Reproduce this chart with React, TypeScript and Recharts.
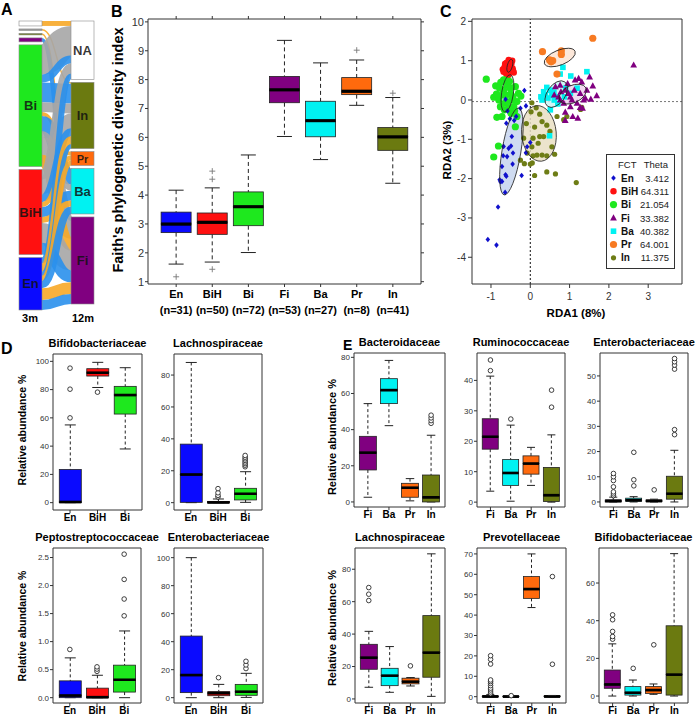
import React from "react";
import { Bar, ComposedChart, Line, ReferenceLine, Sankey, Scatter, ScatterChart, XAxis, YAxis } from "recharts";

const FONT = '"Liberation Sans", Arial, Helvetica, sans-serif';

const groupColors: Record<string, string> = {
  En: "#0a0aff",
  BiH: "#ff1010",
  Bi: "#1ee81e",
  Fi: "#800080",
  Ba: "#00f2f2",
  Pr: "#ff6a0d",
  In: "#6b7a10",
};

// ---------- A: alluvial 3m -> 12m ----------
const sankeyNodeNames = ["", "", "", "", "Bi", "BiH", "En", "NA", "In", "Pr", "Ba", "Fi"];
const sankeyNodeColors = ["#ffffff", "#9a9a9a", "#6b7a10", "#800080", "#1ee81e", "#ff1010", "#0a0aff", "#ffffff", "#6b7a10", "#ff6a0d", "#00f2f2", "#800080"];
const linkSources = [0, 1, 2, 3, 4, 4, 4, 4, 4, 4, 4, 4, 4, 5, 5, 5, 5, 5, 5, 5, 5, 6, 6, 6, 6, 6, 6, 6];
const linkTargets = [7, 8, 10, 11, 7, 7, 8, 8, 9, 10, 10, 11, 11, 7, 8, 8, 9, 10, 10, 11, 11, 7, 8, 8, 9, 10, 11, 11];
const linkValues = [5, 1.5, 1.5, 4, 30, 8, 20, 10, 4, 15, 6, 18, 12, 10, 15, 8, 5, 10, 6, 20, 12, 6, 8, 4.5, 5, 7.5, 12, 10];
const linkKinds = ["o", "o", "o", "b", "g", "b", "b", "g", "o", "b", "g", "g", "o", "g", "g", "b", "o", "b", "o", "g", "b", "b", "o", "b", "o", "b", "o", "b"];
const linkPalette: Record<string, string> = { b: "#2a90ec", g: "#a6a6a6", o: "#f7a928" };

// ---------- B: Faith's PD ----------
const bCats = ["En", "BiH", "Bi", "Fi", "Ba", "Pr", "In"];
const bCounts = [31, 50, 72, 53, 27, 8, 41];
// [low whisker, q1, median, q3, high whisker]
const bStats = [
  [1.61, 2.7, 3.0, 3.41, 4.17],
  [1.68, 2.64, 3.06, 3.38, 4.25],
  [2.01, 2.94, 3.6, 4.11, 5.39],
  [6.03, 7.2, 7.65, 8.11, 9.36],
  [5.23, 6.02, 6.58, 7.25, 8.58],
  [7.11, 7.48, 7.6, 8.07, 8.68],
  [4.41, 5.55, 6.02, 6.34, 7.38],
];
const bOutliers = [[1.17], [1.43, 4.55, 4.83], [], [], [], [9.02], [7.53]];
const bTicks = [1, 2, 3, 4, 5, 6, 7, 8, 9, 10];

// ---------- C: RDA ----------
const cXDomain: [number, number] = [-1.483, 3.86];
const cYDomain: [number, number] = [-4.68, 2.06];
const cXTicks = [-1, 0, 1, 2, 3];
const cYTicks = [-4, -3, -2, -1, 0, 1, 2];
const cLegendGroups = ["En", "BiH", "Bi", "Fi", "Ba", "Pr", "In"];
const cTheta = ["3.412", "64.311", "21.054", "33.382", "40.382", "64.001", "11.375"];

const enPts = [[-0.63, 0.02], [-0.15, 0.24], [-0.11, -0.15], [-0.25, -0.21], [-0.36, -0.42], [-0.41, -0.52], [-0.61, -0.59], [-0.47, -0.93], [-0.68, -1.18], [-0.55, -1.23], [-0.49, -1.17], [-0.69, -1.42], [-0.44, -1.35], [-0.59, -1.44], [-0.72, -1.69], [-0.45, -1.63], [-0.63, -1.9], [-0.61, -1.94], [-0.78, -2.03], [-0.72, -2.07], [-0.76, -2.08], [-0.64, -2.35], [-0.22, -1.92], [0.0, -1.08], [-0.08, -1.19], [-0.11, -1.34], [-0.82, -2.72], [-1.08, -3.55], [-0.86, -3.69], [-0.52, -0.48], [-0.58, -0.28]];
const bihPts = [[-0.55, 1.02], [-0.52, 0.98], [-0.6, 0.95], [-0.48, 0.92], [-0.65, 0.85], [-0.56, 0.85], [-0.45, 0.8], [-0.7, 0.78], [-0.6, 0.75], [-0.5, 0.72], [-0.62, 0.68], [-0.55, 0.65], [-0.42, 0.7], [-0.68, 0.72], [-0.5, 0.88], [-0.58, 0.8], [-0.64, 0.92], [-0.46, 1.0], [-0.53, 0.78], [-0.57, 0.9], [-0.49, 0.82], [-0.61, 0.86], [-0.66, 0.8], [-0.52, 0.93], [-0.44, 0.75]];
const biPts = [[-1.12, 0.53], [-0.88, 0.36], [-0.93, 0.07], [-0.85, -0.44], [-0.72, -0.42], [-0.81, -1.17], [-0.93, -1.45], [-0.34, -0.42], [-0.38, -0.68], [-0.47, 0], [-0.59, 0.38], [-0.68, 0.25], [-0.53, 0.47], [-0.64, -0.08], [-0.55, -0.21], [-0.42, -0.17], [-0.34, -0.04], [-0.3, 0.17], [-0.72, 0.13], [-0.8, 0], [-0.59, 0.55], [-0.51, 0.3], [-0.44, 0.08], [-0.38, 0.34], [-0.68, 0.51], [-0.76, -0.17], [-0.49, -0.34], [-0.24, 0.1], [-0.78, 0.3], [-0.86, 0.15], [-0.62, 0.12], [-0.5, 0.15], [-0.66, -0.25], [-0.4, -0.28], [-0.75, 0.45], [-0.58, -0.05]];
const fiPts = [[2.63, 0.89], [1.69, 0.11], [0.64, 0.34], [0.76, 0.38], [0.89, 0.25], [1.02, 0.08], [1.12, 0.25], [1.23, 0.55], [1.31, 0.46], [1.51, 0.59], [1.59, 0.36], [1.54, 0.02], [1.36, 0], [1.19, -0.08], [1.02, -0.17], [0.76, 0], [0.85, -0.08], [1.33, -0.21], [0.89, -0.31], [1.08, -0.42], [1.21, -0.46], [0.89, -0.52], [0.61, 0.13], [1.27, 0.17], [1.44, 0.25], [1.14, 0.51], [0.97, 0.17], [0.72, 0.08], [0.78, 0.21], [1.06, 0], [1.27, -0.19], [0.95, 0.42], [1.4, 0.05]];
const baPts = [[0.76, 0.66], [1.03, 0.61], [1.44, 0.72], [0.83, 0.83], [0.34, 0.21], [0.42, 0.32], [0.51, 0.25], [0.27, 0.08], [0.3, 0], [0.51, -0.25], [0.61, 0], [0.68, 0.08], [0.87, 0.08], [1.02, 0.17], [1.19, 0.3], [0.49, -0.91], [0.38, 0.13], [0.55, 0.12], [0.45, 0.05], [0.6, 0.2], [0.9, 0.3], [0.7, -0.1]];
const prPts = [[0.31, 1.23], [0.49, 1.02], [0.53, 0.97], [0.79, 1.25], [0.79, 1.16], [0.68, 0.66], [1.59, 1.57], [0.57, 1.0]];
const inPts = [[0.04, -0.07], [0.02, -0.3], [0.24, -0.36], [0.11, -0.69], [-0.17, -0.97], [0.07, -0.97], [0.24, -0.93], [0.34, -0.93], [0.42, -0.64], [0.04, -1.19], [0.17, -1.4], [0.07, -1.42], [0, -1.63], [0.3, -1.4], [0.42, -1.42], [0.62, -1.38], [0.55, -1.19], [0.11, -1.92], [0.42, -1.83], [0.64, -1.88], [1.17, -2.1], [0.68, -0.42], [0.93, -0.42], [1.31, -0.19], [1.28, -0.24], [-0.25, -1.53], [-0.08, -1.35], [0.2, -1.1], [0.5, -0.8], [-0.1, -0.6], [0.3, -0.55], [0.15, -0.2], [-0.15, -1.62], [0.05, -1.6], [0.85, -0.5]];

const ellipseGroups = ["En", "Bi", "BiH", "Fi", "Ba", "Pr", "In"];
const ellipseCenters = [[-0.48, -1.31], [-0.58, 0.17], [-0.52, 0.87], [1.08, 0.15], [0.66, 0.15], [0.75, 1.08], [0.22, -0.85]];
const ellipseAxes = [[1.12, 0.24], [0.48, 0.15], [0.17, 0.065], [0.37, 0.22], [0.38, 0.23], [0.42, 0.19], [0.71, 0.44]];
const ellipseAngles = [80.6, 81.4, 75, 25, 55, 22, 95];
const ellipseFills: Record<string, string> = { En: "#c7d5ee", Bi: "#c9f3c9", BiH: "#f5c4c4", Fi: "#efd2ec", Ba: "#c9f4f6", Pr: "#fbe3d2", In: "#e9dfc3" };

// ---------- D ----------
const dCats = ["En", "BiH", "Bi"];
const dBifido = [[0, 0, 0.5, 23.5, 55], [81.5, 89.6, 92, 94.8, 99.3], [38, 62.7, 76.2, 82.3, 95.5]];
const dBifidoOut = [[60, 80.3, 95.2], [78.2], []];
const dLachno = [[0, 0.2, 17.7, 36.7, 87.9], [0, 0, 0.2, 0.8, 2.3], [0.2, 1.7, 5.6, 9, 19.4]];
const dLachnoOut = [[], [3.6, 4.6, 6.2, 8.8], [22.5, 23.5, 24.5, 25.5, 26.5, 27.5, 28.5, 29.6]];
const dPepto = [[0, 0, 0.04, 0.3, 0.71], [0, 0, 0.01, 0.17, 0.4], [0, 0.1, 0.32, 0.58, 1.19]];
const dPeptoOut = [[0.86], [0.47, 0.51, 0.55], [1.46, 1.76, 2.11, 2.56]];
const dEntero = [[0, 3.6, 16.2, 44, 100], [0, 1.4, 3.3, 4.3, 9.5], [0.2, 1.7, 4.3, 9.5, 17.4]];
const dEnteroOut = [[], [14.3], [20.8, 23.4, 26]];

// ---------- E ----------
const eCats = ["Fi", "Ba", "Pr", "In"];
const eBactero = [[2.6, 17.7, 27.3, 36.3, 54.4], [42.2, 54.4, 61.9, 68.2, 78.3], [0.6, 2.6, 7.9, 10.3, 12.9], [0, 0, 2.6, 14.9, 36.9]];
const eBacteroOut = [[], [], [], [43.5, 45, 46.5, 48]];
const eRumino = [[3.6, 17.4, 21.5, 27.4, 41.4], [0.3, 5.5, 9.6, 14, 25.3], [5.5, 9.2, 12.7, 15.2, 18], [0, 0.2, 2.3, 11.4, 22.1]];
const eRuminoOut = [[43.2, 46.7], [27.3], [], [31.2, 36.8]];
const eEntero = [[0, 0, 0.4, 0.8, 1.9], [0, 0.3, 0.7, 1.5, 2.1], [0, 0.1, 0.4, 0.8, 1.1], [0, 1.1, 3.3, 10.2, 20.5]];
const eEnteroOut = [[2.5, 3.2, 4, 6, 8.5, 10, 11.3], [6.4, 8.8, 19.7], [4.8], [26.7, 28.7, 52.7, 54.3, 55.6, 56.9]];
const eLachno = [[7.2, 18.3, 25.5, 33.7, 41.7], [4.1, 8.2, 14.4, 18.9, 32.3], [8, 9.3, 10.7, 12.8, 13.2], [1.6, 13.4, 28.6, 51.4, 89.5]];
const eLachnoOut = [[60.7, 64.6, 68.7], [], [20.4], []];
const ePrevo = [[0, 0, 0.1, 0.3, 1], [0, 0, 0.05, 0.2, 0.3], [43.7, 48.2, 52.8, 58.9, 70], [0, 0, 0.1, 0.4, 0.6]];
const ePrevoOut = [[1.5, 2.3, 3.3, 4.2, 5.4, 6.5, 7.4, 8.2, 16, 18.3, 20.1], [0.5], [], [15.9, 58.9]];
const eBifido = [[0, 4.1, 6.2, 13.8, 27.7], [0, 0.5, 1.8, 5, 8.5], [0.9, 1.4, 3.2, 5, 6.4], [0, 0.5, 11.4, 37.3, 75.6]];
const eBifidoOut = [[30.2, 31.6, 34.3, 40.5, 43.1], [14.7], [27.2], []];

type Panel = {
  title: string;
  x: number; y: number; w: number; h: number;
  cats: string[]; stats: number[][]; outs: number[][];
  domain: [number, number]; ticks: number[]; fmt?: (v: number) => string; yW: number;
};

const smallPanels: Panel[] = [
  { title: "Bifidobacteriaceae", x: 53, y: 354, w: 89, h: 156, cats: dCats, stats: dBifido, outs: dBifidoOut, domain: [-5.2, 105.2], ticks: [0, 20, 40, 60, 80, 100], yW: 24 },
  { title: "Lachnospiraceae", x: 174, y: 354, w: 88, h: 156, cats: dCats, stats: dLachno, outs: dLachnoOut, domain: [-4.6, 93.2], ticks: [0, 20, 40, 60, 80], yW: 20 },
  { title: "Peptostreptococcaceae", x: 53, y: 548, w: 88, h: 155, cats: dCats, stats: dPepto, outs: dPeptoOut, domain: [-0.095, 2.67], ticks: [0, 0.5, 1, 1.5, 2, 2.5], fmt: (v) => v.toFixed(1), yW: 24 },
  { title: "Enterobacteriaceae", x: 174, y: 548, w: 89, h: 155, cats: dCats, stats: dEntero, outs: dEnteroOut, domain: [-3.8, 106.9], ticks: [0, 20, 40, 60, 80, 100], yW: 20 },
  { title: "Bacteroidaceae", x: 354, y: 353, w: 91, h: 154, cats: eCats, stats: eBactero, outs: eBacteroOut, domain: [-2.8, 82.4], ticks: [0, 20, 40, 60, 80], yW: 20 },
  { title: "Ruminococcaceae", x: 477, y: 353, w: 88, h: 154, cats: eCats, stats: eRumino, outs: eRuminoOut, domain: [-1.6, 49], ticks: [0, 10, 20, 30, 40], yW: 20 },
  { title: "Enterobacteriaceae", x: 600, y: 353, w: 88, h: 154, cats: eCats, stats: eEntero, outs: eEnteroOut, domain: [-2.0, 59.1], ticks: [0, 10, 20, 30, 40, 50], yW: 20 },
  { title: "Lachnospiraceae", x: 355, y: 548, w: 90, h: 155, cats: eCats, stats: eLachno, outs: eLachnoOut, domain: [-2.5, 93.1], ticks: [0, 20, 40, 60, 80], yW: 20 },
  { title: "Prevotellaceae", x: 477, y: 548, w: 89, h: 155, cats: eCats, stats: ePrevo, outs: ePrevoOut, domain: [-3.1, 72.9], ticks: [0, 10, 20, 30, 40, 50, 60, 70], yW: 20 },
  { title: "Bifidobacteriaceae", x: 599, y: 548, w: 89, h: 155, cats: eCats, stats: eBifido, outs: eBifidoOut, domain: [-3.7, 78.6], ticks: [0, 20, 40, 60], yW: 20 },
];

const emptyTick = () => <g />;

type BoxPanelProps = {
  x: number; y: number; w: number; h: number;
  cats: string[]; stats: number[][]; outs: number[][];
  domain: [number, number]; ticks: number[]; fmt?: (v: number) => string;
  yW: number; xH?: number; boxFrac?: number; medW?: number; capFrac?: number;
  tickFont?: number; catFont?: number; marker?: "circle" | "plus"; xTick?: any;
  dash?: string; frameTicks?: boolean;
};

function BoxPanel({ x, y, w, h, cats, stats, outs, domain, ticks, fmt, yW, xH = 22, boxFrac = 0.8, medW = 2.5, capFrac = 0.5, tickFont = 8, catFont = 10, marker = "circle", xTick, dash = "3 2.5", frameTicks = false }: BoxPanelProps) {
  const n = cats.length;
  const band = w / (1.08 * n);
  const pad = 0.04 * n * band;
  const barSize = Math.round(band * boxFrac);
  const nOut = Math.max(0, ...outs.map((o) => o.length));
  const rows = cats.map((name, i) => {
    const [lo, q1, md, q3, hi] = stats[i];
    const row: Record<string, any> = { name, color: groupColors[name], base: lo, wLow: q1 - lo, boxLow: md - q1, boxHigh: q3 - md, wHigh: hi - q3 };
    outs[i].forEach((v, k) => {
      row["o" + k] = v;
    });
    return row;
  });
  // outer space above / right of the plot; the frame axes take 1px of it
  const mt = 5;
  const mr = 5;

  const lowWhisker = (p: any) => {
    const cx = p.x + p.width / 2;
    const bottom = p.y + p.height;
    const c = (p.width * capFrac) / 2;
    return (
      <g>
        <line x1={cx} x2={cx} y1={p.y} y2={bottom} stroke="#222" strokeDasharray={dash} />
        <line x1={cx - c} x2={cx + c} y1={bottom} y2={bottom} stroke="#222" />
      </g>
    );
  };
  const highWhisker = (p: any) => {
    const cx = p.x + p.width / 2;
    const c = (p.width * capFrac) / 2;
    return (
      <g>
        <line x1={cx} x2={cx} y1={p.y} y2={p.y + p.height} stroke="#222" strokeDasharray={dash} />
        <line x1={cx - c} x2={cx + c} y1={p.y} y2={p.y} stroke="#222" />
      </g>
    );
  };
  const lowBox = (p: any) => (
    <g>
      <rect x={p.x} y={p.y} width={p.width} height={Math.max(p.height, 0)} fill={p.payload.color} stroke="#222" strokeWidth={0.8} />
      <line x1={p.x} x2={p.x + p.width} y1={p.y} y2={p.y} stroke="#000" strokeWidth={medW} />
    </g>
  );
  const highBox = (p: any) => (
    <g>
      <rect x={p.x} y={p.y} width={p.width} height={Math.max(p.height, 0)} fill={p.payload.color} stroke="#222" strokeWidth={0.8} />
      <line x1={p.x} x2={p.x + p.width} y1={p.y + p.height} y2={p.y + p.height} stroke="#000" strokeWidth={medW} />
    </g>
  );
  const outDot = (k: number) => (p: any) => {
    const key = `o${k}-${p.index}`;
    if (p.cy == null || Number.isNaN(p.cy) || p.value == null) return <g key={key} />;
    if (marker === "plus") {
      return <path key={key} d={`M${p.cx - 3},${p.cy}H${p.cx + 3}M${p.cx},${p.cy - 3}V${p.cy + 3}`} stroke="#777" strokeWidth={0.9} fill="none" />;
    }
    return <circle key={key} cx={p.cx} cy={p.cy} r={2.3} fill="#fff" stroke="#111" strokeWidth={0.8} />;
  };

  return (
    <div style={{ position: "absolute", left: x - yW, top: y - mt }}>
      <ComposedChart width={yW + w + mr} height={mt + h + xH} data={rows} margin={{ top: mt - 1, right: mr - 1, bottom: 0, left: 0 }}>
        <XAxis
          dataKey="name"
          type="category"
          padding={{ left: pad, right: pad }}
          height={xH}
          interval={0}
          tickSize={3}
          tickMargin={1}
          stroke="#333"
          tick={xTick ?? { fontSize: catFont, fontWeight: "bold", fill: "#000", fontFamily: FONT }}
        />
        <XAxis
          xAxisId="top"
          orientation="top"
          dataKey="name"
          type="category"
          padding={{ left: pad, right: pad }}
          height={1}
          interval={0}
          tick={emptyTick}
          tickLine={frameTicks}
          tickSize={3}
          stroke="#333"
        />
        <YAxis
          type="number"
          domain={domain}
          ticks={ticks}
          allowDataOverflow
          interval={0}
          width={yW}
          tickSize={3}
          tickMargin={1}
          tickFormatter={fmt}
          stroke="#333"
          tick={{ fontSize: tickFont, fill: "#333", fontFamily: FONT }}
        />
        <YAxis
          yAxisId="r"
          orientation="right"
          type="number"
          domain={domain}
          ticks={ticks}
          allowDataOverflow
          interval={0}
          width={1}
          tick={emptyTick}
          tickLine={frameTicks}
          tickSize={3}
          stroke="#333"
        />
        <Line xAxisId="top" yAxisId="r" dataKey="base" stroke="none" dot={false} activeDot={false} isAnimationActive={false} />
        <Bar dataKey="base" stackId="box" barSize={barSize} shape={() => <g />} isAnimationActive={false} />
        <Bar dataKey="wLow" stackId="box" barSize={barSize} shape={lowWhisker} isAnimationActive={false} />
        <Bar dataKey="boxLow" stackId="box" barSize={barSize} shape={lowBox} isAnimationActive={false} />
        <Bar dataKey="boxHigh" stackId="box" barSize={barSize} shape={highBox} isAnimationActive={false} />
        <Bar dataKey="wHigh" stackId="box" barSize={barSize} shape={highWhisker} isAnimationActive={false} />
        {Array.from({ length: nOut }, (_, k) => (
          <Line key={k} dataKey={"o" + k} stroke="none" dot={outDot(k)} activeDot={false} isAnimationActive={false} />
        ))}
      </ComposedChart>
    </div>
  );
}

function BTick(props: any) {
  const { x, y, payload } = props;
  const i = bCats.indexOf(payload.value);
  return (
    <g fontFamily={FONT} fontWeight="bold" fontSize={11} fill="#000">
      <text x={x} y={y + 10} textAnchor="middle">{payload.value}</text>
      <text x={x} y={y + 26} textAnchor="middle">(n={bCounts[i]})</text>
    </g>
  );
}

// ---------- A renderers ----------
function AlluvialNode(props: any) {
  const { x, y, width, height, index } = props;
  const name = sankeyNodeNames[index] ?? "";
  return (
    <g>
      <rect x={x} y={y} width={width} height={Math.max(height, 1)} fill={sankeyNodeColors[index]} stroke="#8a8a8a" strokeWidth={0.6} />
      {name ? (
        <text x={x + width / 2} y={y + height / 2} textAnchor="middle" dominantBaseline="central" fontFamily={FONT} fontWeight="bold" fontSize={name === "Pr" ? 11 : 13} fill="#111" fillOpacity={0.85}>
          {name}
        </text>
      ) : null}
    </g>
  );
}

function AlluvialLink(props: any) {
  const { sourceX, sourceY, sourceControlX, targetX, targetY, targetControlX, linkWidth, index, payload } = props;
  const color = payload?.color ?? linkPalette[linkKinds[index]];
  return (
    <path
      d={`M${sourceX},${sourceY} C${sourceControlX},${sourceY} ${targetControlX},${targetY} ${targetX},${targetY}`}
      fill="none"
      stroke={color}
      strokeWidth={Math.max(linkWidth, 0.8)}
      strokeOpacity={0.9}
    />
  );
}

// ---------- C renderers ----------
const cChartW = 270;
const cYAxisW = 52;
const cMarginR = 8;
const cPlotW = cChartW - cYAxisW - cMarginR;
const cPlotH = 265;
const pxX = cPlotW / (cXDomain[1] - cXDomain[0]);
const pxY = cPlotH / (cYDomain[1] - cYDomain[0]);

function drawSymbol(group: string, cx: number, cy: number, key?: string) {
  const fill = groupColors[group];
  switch (group) {
    case "En":
      return <polygon key={key} points={`${cx},${cy - 2.8} ${cx + 2.3},${cy} ${cx},${cy + 2.8} ${cx - 2.3},${cy}`} fill="#1010cc" />;
    case "Fi":
      return <polygon key={key} points={`${cx},${cy - 3.6} ${cx + 3.4},${cy + 2.6} ${cx - 3.4},${cy + 2.6}`} fill={fill} />;
    case "Ba":
      return <rect key={key} x={cx - 2.8} y={cy - 2.8} width={5.6} height={5.6} fill={fill} />;
    case "In":
      return <circle key={key} cx={cx} cy={cy} r={2.6} fill="#6e7d16" />;
    case "BiH":
      return <circle key={key} cx={cx} cy={cy} r={3.2} fill={fill} />;
    case "Pr":
      return <circle key={key} cx={cx} cy={cy} r={3.6} fill="#f77a22" />;
    default:
      return <circle key={key} cx={cx} cy={cy} r={3.6} fill={fill} />;
  }
}

const cSeries: [string, number[][]][] = [
  ["In", inPts],
  ["Bi", biPts],
  ["BiH", bihPts],
  ["Ba", baPts],
  ["Fi", fiPts],
  ["Pr", prPts],
  ["En", enPts],
];

const ellipseRows = ellipseGroups.map((g, i) => ({
  x: ellipseCenters[i][0],
  y: ellipseCenters[i][1],
  a: ellipseAxes[i][0],
  b: ellipseAxes[i][1],
  ang: ellipseAngles[i],
  group: g,
}));

const ellipseShape = (filled: boolean) => (p: any) => (
  <ellipse
    cx={p.cx}
    cy={p.cy}
    rx={p.payload.a * pxX}
    ry={p.payload.b * pxY}
    transform={`rotate(${-p.payload.ang} ${p.cx} ${p.cy})`}
    fill={filled ? ellipseFills[p.payload.group] : "none"}
    fillOpacity={0.85}
    stroke={filled ? "none" : "#222"}
    strokeWidth={0.8}
  />
);

function RdaPanel() {
  return (
    <div style={{ position: "absolute", left: 420, top: 0 }}>
      <ScatterChart width={cChartW} height={320} margin={{ top: 18, right: cMarginR - 1, bottom: 0, left: 0 }}>
        <XAxis type="number" dataKey="x" domain={cXDomain} ticks={cXTicks} allowDataOverflow interval={0} height={36} tickSize={4} tickMargin={5} stroke="#333" tick={{ fontSize: 10, fill: "#333", fontFamily: FONT }} />
        <XAxis xAxisId="top" orientation="top" type="number" dataKey="x" domain={cXDomain} allowDataOverflow height={1} tick={emptyTick} tickLine={false} stroke="#333" />
        <YAxis type="number" dataKey="y" domain={cYDomain} ticks={cYTicks} allowDataOverflow interval={0} width={cYAxisW} tickSize={4} tickMargin={2} stroke="#333" tick={{ fontSize: 10, fill: "#333", fontFamily: FONT }} />
        <YAxis yAxisId="r" orientation="right" type="number" dataKey="y" domain={cYDomain} allowDataOverflow width={1} tick={emptyTick} tickLine={false} stroke="#333" />
        <ReferenceLine x={0} stroke="#111" strokeDasharray="2 2" />
        <ReferenceLine y={-0.04} stroke="#777" strokeDasharray="2 2" />
        <Scatter xAxisId="top" yAxisId="r" data={ellipseRows} shape={() => <g />} isAnimationActive={false} />
        <Scatter data={ellipseRows} shape={ellipseShape(true)} isAnimationActive={false} />
        {cSeries.map(([g, pts]) => (
          <Scatter
            key={g}
            data={pts.map(([px, py]) => ({ x: px, y: py }))}
            shape={(p: any) => drawSymbol(g, p.cx, p.cy)}
            isAnimationActive={false}
          />
        ))}
        <Scatter data={ellipseRows} shape={ellipseShape(false)} isAnimationActive={false} />
      </ScatterChart>
    </div>
  );
}

function RdaLegend() {
  return (
    <svg width={70} height={116} style={{ position: "absolute", left: 606, top: 154 }} fontFamily={FONT}>
      <rect x={0.5} y={0.5} width={68} height={114} fill="#fff" stroke="#333" strokeWidth={1} />
      <text x={12} y={14} fontSize={9.5} fill="#222">FCT</text>
      <text x={62} y={14} fontSize={9.5} fill="#222" textAnchor="end">Theta</text>
      {cLegendGroups.map((g, i) => {
        const cy = 24 + i * 13.3;
        return (
          <g key={g}>
            {drawSymbol(g, 7.5, cy)}
            <text x={15} y={cy + 3.6} fontSize={10} fontWeight="bold" fill="#111">{g}</text>
            <text x={63} y={cy + 3.6} fontSize={9.5} fill="#222" textAnchor="end">{cTheta[i]}</text>
          </g>
        );
      })}
    </svg>
  );
}

export default function App() {
  const alluvialData = {
    nodes: sankeyNodeNames.map((name) => ({ name })),
    links: linkSources.map((s, i) => ({ source: s, target: linkTargets[i], value: linkValues[i], color: linkPalette[linkKinds[i]] })),
  };
  return (
    <div style={{ position: "relative", width: 696, height: 720, background: "#fff", fontFamily: FONT, overflow: "hidden" }}>
      <style>{"body{margin:0}"}</style>

      <div style={{ position: "absolute", left: 0, top: 0 }}>
        <Sankey
          width={100}
          height={320}
          data={alluvialData}
          nodeWidth={23}
          nodePadding={3}
          iterations={0}
          sort={false}
          margin={{ top: 21, right: 6, bottom: 10, left: 19 }}
          node={(p: any) => <AlluvialNode {...p} />}
          link={(p: any) => <AlluvialLink {...p} />}
        />
      </div>

      <BoxPanel
        x={148}
        y={19}
        w={273}
        h={265}
        cats={bCats}
        stats={bStats}
        outs={bOutliers}
        domain={[0.92, 10.1]}
        ticks={bTicks}
        yW={40}
        xH={36}
        boxFrac={0.83}
        medW={3}
        tickFont={11}
        marker="plus"
        xTick={<BTick />}
        dash="4 3"
        frameTicks
      />

      <RdaPanel />
      <RdaLegend />

      {smallPanels.map((p, i) => (
        <BoxPanel key={i} {...p} />
      ))}

      <svg width={696} height={720} style={{ position: "absolute", left: 0, top: 0, pointerEvents: "none" }} fontFamily={FONT} fontWeight="bold">
        <text x={1} y={15} fontSize={16}>A</text>
        <text x={111} y={17} fontSize={16}>B</text>
        <text x={440} y={17} fontSize={16}>C</text>
        <text x={1} y={354} fontSize={16}>D</text>
        <text x={343} y={350} fontSize={14}>E</text>

        <text x={30} y={322} fontSize={11} textAnchor="middle">3m</text>
        <text x={83} y={322} fontSize={11} textAnchor="middle">12m</text>

        <text x={118} y={150} fontSize={14.5} textAnchor="middle" dominantBaseline="central" transform="rotate(-90 118 150)">
          Faith's phylogenetic diversity index
        </text>

        <text x={576} y={313} fontSize={11.5} textAnchor="middle" dominantBaseline="central">RDA1 (8%)</text>
        <text x={447} y={150} fontSize={11.5} textAnchor="middle" dominantBaseline="central" transform="rotate(-90 447 150)">RDA2 (3%)</text>

        <text x={22} y={430} fontSize={10.5} textAnchor="middle" dominantBaseline="central" transform="rotate(-90 22 430)">Relative abundance %</text>
        <text x={22} y={626} fontSize={10.5} textAnchor="middle" dominantBaseline="central" transform="rotate(-90 22 626)">Relative abundance %</text>
        <text x={332} y={437} fontSize={11} textAnchor="middle" dominantBaseline="central" transform="rotate(-90 332 437)">Relative abundance %</text>
        <text x={332} y={628} fontSize={11} textAnchor="middle" dominantBaseline="central" transform="rotate(-90 332 628)">Relative abundance %</text>

        {smallPanels.map((p, i) => (
          <text key={i} x={p.x + p.w / 2} y={p.y - 11} fontSize={11} textAnchor="middle" dominantBaseline="central">
            {p.title}
          </text>
        ))}
      </svg>
    </div>
  );
}
